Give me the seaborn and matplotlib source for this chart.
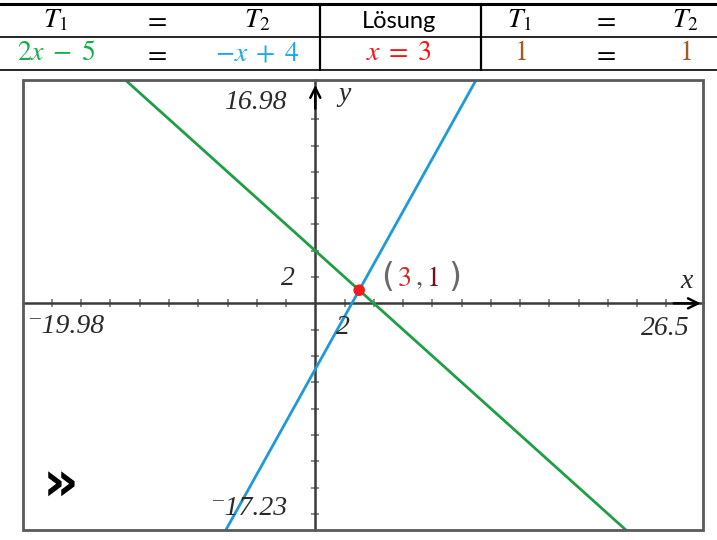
import matplotlib
matplotlib.use("Agg")
import matplotlib.pyplot as plt
from matplotlib.lines import Line2D
from matplotlib.patches import Rectangle
import numpy as np
import pandas as pd
import seaborn as sns

# Linear terms T1 and T2 as drawn: y = slope * x + intercept
line_names = ["T1", "T2"]
slopes = [2, -1]
intercepts = [-5, 4]
line_colors = ["#1d9ad8", "#1f9e45"]

# Solution of the equation
solution_x = [3]
solution_y = [1]

# Window of the graph
x_min, x_max = -19.98, 26.5
y_min, y_max = -17.23, 16.98
tick_step = 2

# Table contents
header_row = [r"$T_1$", r"$=$", r"$T_2$", "Lösung", r"$T_1$", r"$=$", r"$T_2$"]
value_row = [r"$2x\;-\;5$", r"$=$", r"$-x\;+\;4$", r"$x\;=\;3$", r"$1$", r"$=$", r"$1$"]
value_colors = ["#1aae4a", "black", "#1aa8e6", "#ff1010", "#a65a1c", "black", "#a65a1c"]
col_centers = [56, 155, 257, 399, 520, 604, 685]

sns.set_theme(style="white")
plt.rcParams["mathtext.fontset"] = "stix"
plt.rcParams["font.family"] = ["Liberation Serif", "DejaVu Serif"]

W, H = 717, 540
fig = plt.figure(figsize=(W / 100, H / 100), dpi=100)
fig.patch.set_facecolor("white")


def fx(px):
    return px / W


def fy(py):
    return 1 - py / H


# ---- table ----
fig.add_artist(Line2D([0, 1], [fy(4), fy(4)], color="black", lw=2.2))
fig.add_artist(Line2D([0, 1], [fy(37), fy(37)], color="black", lw=1.2))
fig.add_artist(Line2D([0, 1], [fy(70), fy(70)], color="black", lw=1.2))
for vx in (320, 481):
    fig.add_artist(Line2D([fx(vx), fx(vx)], [fy(4), fy(70)], color="black", lw=1.6))

for cx, txt in zip(col_centers, header_row):
    if txt == "Lösung":
        fig.text(fx(cx), fy(21), txt, ha="center", va="center", fontsize=17,
                 family=["Lato", "DejaVu Sans"], color="black")
    else:
        fig.text(fx(cx), fy(21), txt, ha="center", va="center", fontsize=20, color="black")
for cx, txt, c in zip(col_centers, value_row, value_colors):
    fig.text(fx(cx), fy(54), txt, ha="center", va="center", fontsize=20, color=c)

# ---- graph ----
ax = fig.add_axes([fx(23), fy(530), fx(703) - fx(23), fy(80) - fy(530)])
ax.set_facecolor("white")

xs = np.array([x_min, x_max])
frames = []
for name, m, b in zip(line_names, slopes, intercepts):
    frames.append(pd.DataFrame({"x": xs, "y": m * xs + b, "term": name}))
df = pd.concat(frames, ignore_index=True)

sns.lineplot(data=df, x="x", y="y", hue="term", palette=line_colors,
             linewidth=2.0, legend=False, ax=ax, zorder=3)
sns.scatterplot(x=solution_x, y=solution_y, color="#ee1c1c", s=70,
                edgecolor="none", ax=ax, zorder=5)

ax.set_xlim(x_min, x_max)
ax.set_ylim(y_min, y_max)
ax.set_xlabel("")
ax.set_ylabel("")

# axes through the origin
for side in ("top", "right"):
    ax.spines[side].set_visible(False)
ax.spines["left"].set_position(("data", 0))
ax.spines["bottom"].set_position(("data", 0))
for side in ("left", "bottom"):
    ax.spines[side].set_color("#3a3a3a")
    ax.spines[side].set_linewidth(1.8)
    ax.spines[side].set_zorder(2)

xt = [v for v in range(-18, 25, tick_step) if v != 0]
yt = [v for v in range(-16, 15, tick_step) if v != 0]
ax.set_xticks(xt)
ax.set_yticks(yt)
ax.tick_params(axis="both", which="major", bottom=True, left=True,
               direction="inout", length=6, width=1.4, color="#8a8a8a",
               labelbottom=False, labelleft=False)

# arrow heads
ax.annotate("", xy=(26.35, 0), xytext=(24.5, 0),
            arrowprops=dict(arrowstyle="->", color="black", lw=1.8,
                            mutation_scale=18, shrinkA=0, shrinkB=0))
ax.annotate("", xy=(0, 16.6), xytext=(0, 14.8),
            arrowprops=dict(arrowstyle="->", color="black", lw=1.8,
                            mutation_scale=18, shrinkA=0, shrinkB=0))

# frame of the graph window
ax.add_patch(Rectangle((0, 0), 1, 1, transform=ax.transAxes, fill=False,
                       edgecolor="#5a5a5a", lw=2.0, clip_on=False, zorder=6))

lab = dict(fontsize=20, style="italic", color="#2a2a2a")
ax.text(-2.0, 15.3, "16.98", ha="right", va="center", **lab)
ax.text(-1.4, 1.9, "2", ha="right", va="center", **lab)
ax.text(-19.7, -1.75, "\u207b19.98", ha="left", va="center", **lab)
ax.text(1.9, -1.8, "2", ha="center", va="center", **lab)
ax.text(25.6, -1.9, "26.5", ha="right", va="center", **lab)
ax.text(-1.9, -15.6, "\u207b17.23", ha="right", va="center", **lab)
ax.text(25.4, 1.65, "x", ha="center", va="center", **lab)
ax.text(2.0, 15.85, "y", ha="center", va="center", **lab)

# point label (3,1)
ax.text(4.5, 2.0, "(", ha="left", va="center", fontsize=24, color="#6a6a6a",
        family=["DejaVu Sans"])
ax.text(5.6, 1.85, r"$3$", ha="left", va="center", fontsize=20, color="#d42a2a")
ax.text(6.8, 1.85, r"$,$", ha="left", va="center", fontsize=20, color="#555555")
ax.text(7.6, 1.85, r"$1$", ha="left", va="center", fontsize=20, color="#7a0d1c")
ax.text(9.1, 2.0, ")", ha="left", va="center", fontsize=24, color="#6a6a6a",
        family=["DejaVu Sans"])

# menu glyph
ax.text(-18.6, -13.9, "\u00bb", ha="left", va="center", fontsize=40,
        fontweight="bold", color="black", family=["DejaVu Sans"])

fig.savefig("out.png", dpi=100, facecolor="white")
